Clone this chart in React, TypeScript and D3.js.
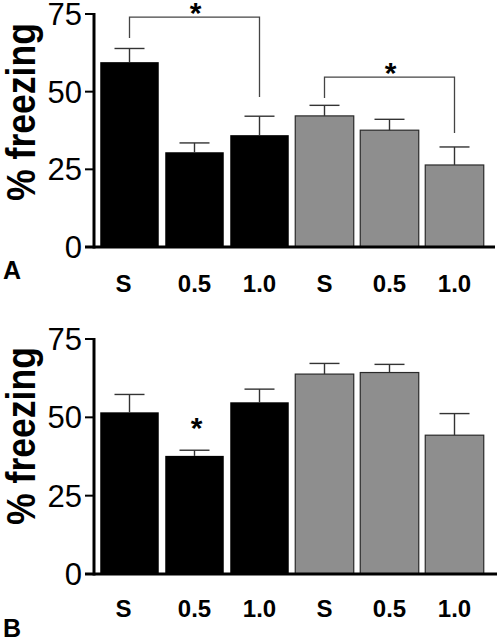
import React from "react";
import * as d3 from "d3";

const categories = ["S", "0.5", "1.0", "S", "0.5", "1.0"];
const treatmentGroup = ["first", "first", "first", "second", "second", "second"];
const panelAMeans = [59.5, 30.5, 36.0, 42.2, 37.6, 26.4];
const panelASem = [4.4, 3.0, 6.1, 3.4, 3.5, 5.8];
const panelBMeans = [51.6, 37.7, 54.8, 63.8, 64.3, 44.3];
const panelBSem = [5.7, 1.8, 4.2, 3.4, 2.6, 6.9];
const yTicks = [0, 25, 50, 75];
const yLabel = "% freezing";
// brackets: from bar, to bar, level, left leg end, right leg end
const panelABrackets = [
  { from: 0, to: 2, level: 74.0, leftEnd: 67.3, rightEnd: 48.3 },
  { from: 3, to: 5, level: 54.7, leftEnd: 48.0, rightEnd: 36.7 },
];
const panelBStars = [{ bar: 1, value: 48.5 }];

const FONT = "'Liberation Sans', Arial, Helvetica, sans-serif";

type Bracket = { from: number; to: number; level: number; leftEnd: number; rightEnd: number };

function Panel(props: {
  means: number[];
  sems: number[];
  top: number;
  bottom: number;
  axisRight: number;
  letter: string;
  letterY: number;
  labelY: number;
  yLabelCenter: number;
  brackets: Bracket[];
  stars: { bar: number; value: number }[];
}) {
  const { means, sems, top, bottom, axisRight, letter, letterY, labelY, yLabelCenter, brackets, stars } = props;
  const axisX = 94;
  const y = d3.scaleLinear().domain([0, 75]).range([bottom, top]);
  const x = d3
    .scaleBand<number>()
    .domain(d3.range(categories.length))
    .range([97, 487])
    .paddingInner(0.1)
    .paddingOuter(0.05);
  const bw = x.bandwidth();
  const cx = (i: number) => (x(i) as number) + bw / 2;
  const starFs = 30;
  return (
    <g>
      {means.map((m, i) => {
        const gray = treatmentGroup[i] === "second";
        return (
          <rect
            key={"b" + i}
            x={x(i)}
            y={y(m)}
            width={bw}
            height={y(0) - y(m)}
            fill={gray ? "#8e8e8e" : "#000"}
            stroke={gray ? "#2a2a2a" : "none"}
            strokeWidth={1.2}
          />
        );
      })}
      {means.map((m, i) => (
        <g key={"e" + i} stroke="#333" strokeWidth={1.4}>
          <line x1={cx(i)} x2={cx(i)} y1={y(m)} y2={y(m + sems[i])} />
          <line x1={cx(i) - 15} x2={cx(i) + 15} y1={y(m + sems[i])} y2={y(m + sems[i])} />
        </g>
      ))}
      {brackets.map((b, i) => {
        const x1 = cx(b.from);
        const x2 = cx(b.to);
        const yl = y(b.level);
        return (
          <g key={"br" + i}>
            <path
              d={`M${x1},${y(b.leftEnd)}V${yl}H${x2}V${y(b.rightEnd)}`}
              fill="none"
              stroke="#444"
              strokeWidth={1.3}
            />
            <text
              x={(x1 + x2) / 2 + 1}
              y={yl - 10 + 15.5}
              textAnchor="middle"
              fontFamily={FONT}
              fontWeight="bold"
              fontSize={starFs}
              fill="#000"
            >
              *
            </text>
          </g>
        );
      })}
      {stars.map((s, i) => (
        <text
          key={"s" + i}
          x={cx(s.bar) + 2}
          y={y(s.value) + 15.5}
          textAnchor="middle"
          fontFamily={FONT}
          fontWeight="bold"
          fontSize={starFs}
          fill="#000"
        >
          *
        </text>
      ))}
      <line x1={axisX} x2={axisX} y1={y(75) - 1} y2={y(0) + 1.5} stroke="#000" strokeWidth={3} />
      <line x1={85} x2={axisRight} y1={y(0)} y2={y(0)} stroke="#000" strokeWidth={3} />
      {yTicks.map((t) => (
        <g key={"t" + t}>
          <line x1={85} x2={axisX} y1={y(t)} y2={y(t)} stroke="#000" strokeWidth={2} />
          <text x={82} y={y(t) + 11} textAnchor="end" fontFamily={FONT} fontSize={31} fill="#000">
            {t}
          </text>
        </g>
      ))}
      {categories.map((c, i) => (
        <text
          key={"c" + i}
          x={cx(i) - (i === 0 ? 6 : 0)}
          y={labelY}
          textAnchor="middle"
          fontFamily={FONT}
          fontWeight="bold"
          fontSize={24}
          fill="#000"
        >
          {c}
        </text>
      ))}
      <text x={3} y={letterY} fontFamily={FONT} fontWeight="bold" fontSize={25} fill="#000">
        {letter}
      </text>
      <text
        transform={`translate(35,${yLabelCenter}) rotate(-90)`}
        textAnchor="middle"
        fontFamily={FONT}
        fontWeight="bold"
        fontSize={40}
        textLength={178}
        lengthAdjust="spacingAndGlyphs"
        fill="#000"
      >
        {yLabel}
      </text>
    </g>
  );
}

export default function App() {
  return (
    <svg width={499} height={641} style={{ position: "absolute", left: 0, top: 0, background: "#fff" }}>
      <rect width={499} height={641} fill="#fff" />
      <Panel
        means={panelAMeans}
        sems={panelASem}
        top={14}
        bottom={247}
        axisRight={495}
        letter="A"
        letterY={279}
        labelY={292}
        yLabelCenter={112}
        brackets={panelABrackets}
        stars={[]}
      />
      <Panel
        means={panelBMeans}
        sems={panelBSem}
        top={339}
        bottom={574}
        axisRight={497}
        letter="B"
        letterY={637}
        labelY={617}
        yLabelCenter={436}
        brackets={[]}
        stars={panelBStars}
      />
    </svg>
  );
}
